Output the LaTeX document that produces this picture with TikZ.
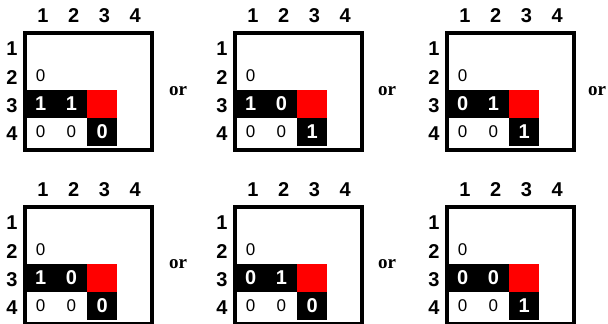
\documentclass[tikz,border=0pt]{standalone}
\usepackage{fontspec}
\setmainfont{Liberation Serif}
\newfontfamily\arialf{Liberation Sans}
\tikzset{
 x=1pt,y=-1pt,
 lbl/.style={font=\arialf\bfseries\fontsize{20}{20}\selectfont, inner sep=0},
 cellw/.style={minimum width=30.75pt, minimum height=28.25pt, inner sep=0, draw=none, anchor=north west},
 zero/.style={cellw, font=\arialf\fontsize{17}{17}\selectfont},
 blk/.style={cellw, fill=black, text=white, font=\arialf\bfseries\fontsize{20}{20}\selectfont},
 redc/.style={cellw, fill=red},
 frame/.style={draw=black, line width=4pt, minimum width=127pt, minimum height=117pt, inner sep=0, anchor=north west},
 ortext/.style={font=\bfseries\fontsize{19}{19}\selectfont, inner sep=0}
}
\newcommand\gridpanel[6]{%
 \begin{scope}[shift={(#1,#2)}]
  \node[zero] (#3-21) at (4,32.25) {0};
  \node[blk] (#3-31) at (4,60.5) {#4};
  \node[blk] (#3-32) at (34.75,60.5) {#5};
  \node[redc] (#3-33) at (65.5,60.5) {};
  \node[zero] (#3-41) at (4,88.75) {0};
  \node[zero] (#3-42) at (34.75,88.75) {0};
  \node[blk] (#3-43) at (65.5,88.75) {#6};
  \node[frame] (#3-f) at (2,2) {};
  \node[lbl] (#3-c1) at (21.9,-13) {1};
  \node[lbl] (#3-c2) at (52.6,-13) {2};
  \node[lbl] (#3-c3) at (83.4,-13) {3};
  \node[lbl] (#3-c4) at (114.1,-13) {4};
  \node[lbl] (#3-r1) at (-9,20.1) {1};
  \node[lbl] (#3-r2) at (-9,48.4) {2};
  \node[lbl] (#3-r3) at (-9,76.6) {3};
  \node[lbl] (#3-r4) at (-9,104.9) {4};
 \end{scope}
}
\begin{document}
\begin{tikzpicture}
\useasboundingbox[fill=white] (0,0) rectangle (608,324);
\gridpanel{21}{29}{A}{1}{1}{0}
\gridpanel{231}{29}{B}{1}{0}{1}
\gridpanel{443}{29}{C}{0}{1}{1}
\gridpanel{21}{203}{D}{1}{0}{0}
\gridpanel{231}{203}{E}{0}{1}{0}
\gridpanel{443}{203}{F}{0}{0}{1}
\node[ortext] (or1) at (178,91) {or};
\node[ortext] (or2) at (387,91) {or};
\node[ortext] (or3) at (597,91) {or};
\node[ortext] (or4) at (178,264) {or};
\node[ortext] (or5) at (387,264) {or};
\end{tikzpicture}
\end{document}
